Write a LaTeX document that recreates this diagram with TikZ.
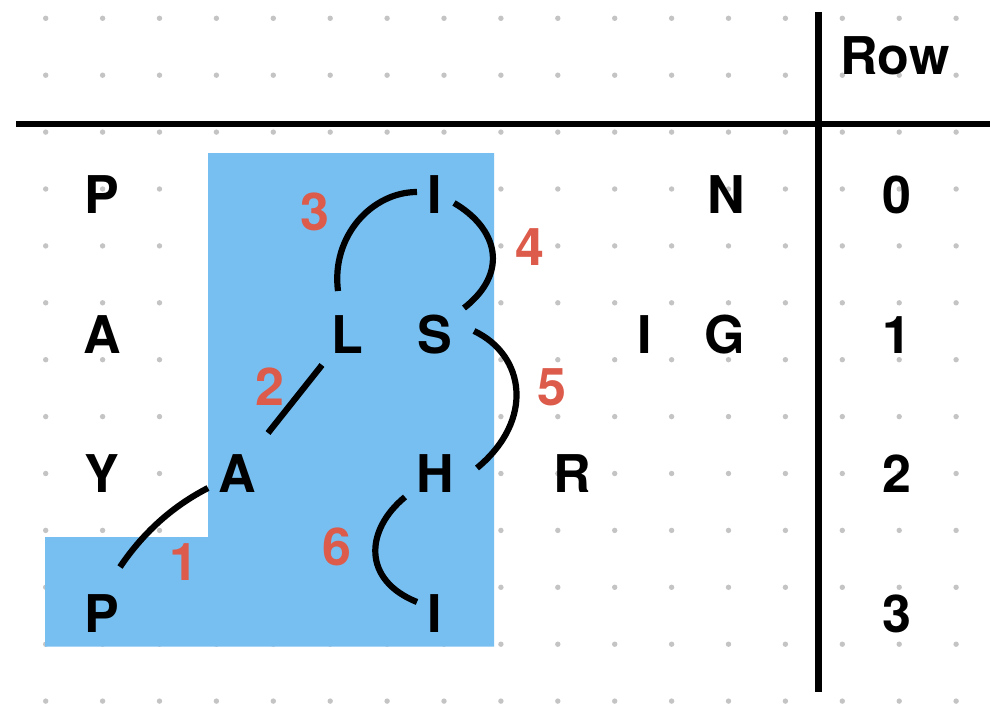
\documentclass[tikz,border=0pt]{standalone}
\usepackage{fontspec}
\setmainfont{TeX Gyre Heros}
\definecolor{dotc}{HTML}{C4C4C4}
\definecolor{bluec}{HTML}{77BFF1}
\definecolor{redc}{HTML}{DD5B4B}
\begin{document}
\begin{tikzpicture}[x=1pt,y=-1pt,
  lett/.style={font=\fontsize{52}{60}\selectfont\bfseries, anchor=base, inner sep=0pt},
  numr/.style={lett, text=redc},
  rule/.style={line width=6.5pt},
  link/.style={line width=6.2pt}]
\useasboundingbox (0,0) rectangle (1006,706);
\fill[white] (0,0) rectangle (1006,706);
% dot grid
\foreach \i in {0,...,16}{
  \foreach \j in {0,...,12}{
    \fill[dotc] ({45.7+56.9*\i},{18.3+56.9*\j}) circle[radius=2.7pt];
  }
}
% highlighted region
\fill[bluec] (208,153) -- (494,153) -- (494,646.5) -- (45,646.5) -- (45,537) -- (208,537) -- cycle;
% table rules
\coordinate (hl) at (16,124);
\coordinate (hr) at (990,124);
\coordinate (vt) at (818.5,12);
\coordinate (vb) at (818.5,692);
\draw[rule] (hl) -- (hr);
\draw[rule] (vt) -- (vb);
% header and row indices
\node[lett] (row) at (895,75) {Row};
\node[lett] (r0) at (897,213) {0};
\node[lett] (r1) at (897,353) {1};
\node[lett] (r2) at (897,492) {2};
\node[lett] (r3) at (897,632) {3};
% letters
\node[lett] (p0) at (102,213) {P};
\node[lett] (a1) at (102,353) {A};
\node[lett] (y2) at (102,492) {Y};
\node[lett] (p3) at (102,632) {P};
\node[lett] (a2) at (237,492) {A};
\node[lett] (l1) at (347,353) {L};
\node[lett] (i0) at (435,213) {I};
\node[lett] (s1) at (435,353) {S};
\node[lett] (h2) at (435,492) {H};
\node[lett] (i3) at (435,632) {I};
\node[lett] (r2l) at (572,492) {R};
\node[lett] (i1) at (645,353) {I};
\node[lett] (g1) at (725,353) {G};
\node[lett] (n0) at (726,213) {N};
% step numbers
\node[numr] (n1) at (184,580) {1};
\node[numr] (n2) at (270,405) {2};
\node[numr] (n3) at (315,230) {3};
\node[numr] (n4) at (530,265) {4};
\node[numr] (n5) at (552,405) {5};
\node[numr] (n6) at (337,565) {6};
% connector end points
\coordinate (c1a) at (120,567);
\coordinate (c1b) at (208,488);
\coordinate (c2a) at (268,433);
\coordinate (c2b) at (322,365);
\coordinate (c3a) at (338,291);
\coordinate (c3b) at (417,192);
\coordinate (c4a) at (454,203);
\coordinate (c4b) at (464,308);
\coordinate (c5a) at (474,331);
\coordinate (c5b) at (477,468);
\coordinate (c6a) at (405,497);
\coordinate (c6b) at (417,602);
\draw[link] (c1a) .. controls (145,530) and (175,505) .. (c1b);
\draw[link] (c2a) -- (c2b);
\draw[link] (c3a) .. controls (331,236) and (372,192) .. (c3b);
\draw[link] (c4a) .. controls (497,228) and (510,272) .. (c4b);
\draw[link] (c5a) .. controls (525,355) and (535,420) .. (c5b);
\draw[link] (c6a) .. controls (365,530) and (362,580) .. (c6b);
\end{tikzpicture}
\end{document}
